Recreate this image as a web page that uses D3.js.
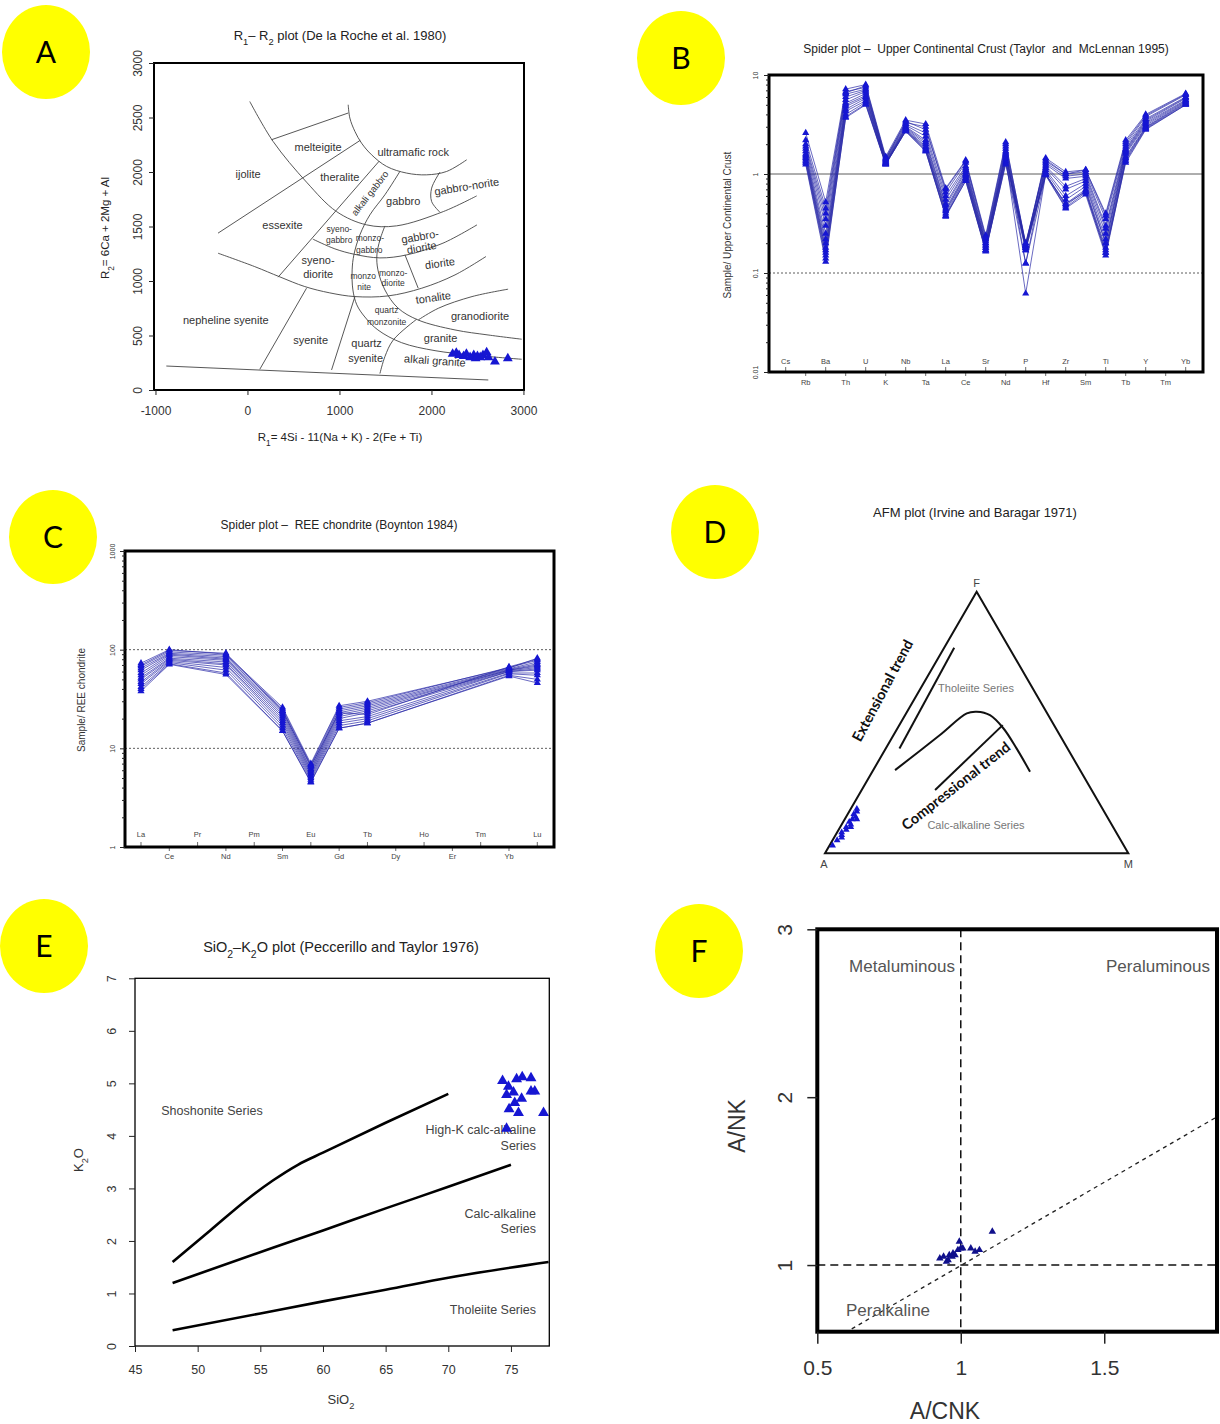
<!DOCTYPE html>
<html>
<head>
<meta charset="utf-8">
<script src="https://cdn.jsdelivr.net/npm/d3@7"></script>
<style>
  body { margin: 0; background: #fff; }
  text { white-space: pre; }
</style>
</head>
<body>
<svg id="fig" width="1220" height="1424"></svg>
<script>
// ---------- data ----------
// A: R1-R2 (De la Roche) field boundaries, [R1, R2]
const boundBase = [[-882, 220], [2618, 92]];
const boundOuterArc = [[25, 2647], [279, 2280], [642, 1907], [968, 1637], [1295, 1515], [1621, 1506], [2129, 1637], [2492, 1781]];
const boundMelteigiteTop = [[261, 2296], [1095, 2541]];
const boundUltramafic = [[1095, 2617], [1113, 2495], [1168, 2372], [1240, 2265], [1349, 2158], [1513, 2051], [1730, 1990], [1948, 1974], [2165, 2005], [2383, 2112]];
const boundIjolite = [[-320, 1439], [1225, 2290]];
const boundAlkaliGabbro = [[1432, 2100], [333, 1035]];
const boundMonzonite = [[1657, 2005], [1494, 1791], [1331, 1607], [1222, 1423], [1157, 1240], [1138, 1102], [1146, 918], [1189, 781], [1276, 670], [1418, 551], [1676, 434], [2039, 361], [2437, 321], [2981, 282]];
const boundGranodiorite = [[1494, 1505], [1440, 1377], [1407, 1240], [1418, 1102], [1494, 918], [1635, 753], [1853, 643], [2256, 551], [2615, 505], [2981, 466]];
const boundGabbroNorite = [[2092, 1999], [2002, 1852], [2002, 1729], [2092, 1631]];
const boundDiorite = [[711, 1384], [950, 1295], [1168, 1244], [1440, 1212], [1734, 1240], [2125, 1347], [2495, 1515]];
const boundSyenodiorite = [[-320, 1255], [79, 1132], [351, 1038], [623, 949], [895, 891], [1168, 857], [1527, 863], [1895, 934], [2256, 1056], [2593, 1225]];
const boundMonzodiorite = [[1712, 1240], [1856, 934]];
const boundTonalite = [[1857, 643], [2075, 750], [2441, 857], [2833, 925]];
const boundNephSyenite = [[642, 934], [134, 190]];
const boundSyenite = [[1168, 857], [914, 184]];
const boundQtzSyenite = [[1839, 649], [1585, 459], [1494, 306], [1440, 151]];
const r1r2Boundaries = [boundBase, boundOuterArc, boundMelteigiteTop, boundUltramafic, boundIjolite, boundAlkaliGabbro,
  boundMonzonite, boundGranodiorite, boundGabbroNorite, boundDiorite, boundSyenodiorite, boundMonzodiorite,
  boundTonalite, boundNephSyenite, boundSyenite, boundQtzSyenite];

const r1r2Labels = [['melteigite', 768, 2225], ['ultramafic rock', 1802, 2179], ['ijolite', 7, 1981], ['theralite', 1004, 1953],
  ['alkali gabbro', 1331, 1806], ['gabbro', 1693, 1736], ['gabbro-norite', 2383, 1867], ['essexite', 381, 1515],
  ['gabbro-', 1875, 1408], ['diorite', 1893, 1307], ['syeno-', 768, 1194], ['diorite ', 768, 1062], ['diorite  ', 2092, 1163],
  ['tonalite', 2020, 848], ['granodiorite', 2528, 682], ['nepheline syenite', -236, 643], ['syenite', 686, 453],
  ['quartz', 1295, 429], ['syenite ', 1284, 291], ['granite', 2100, 475], ['alkali granite', 2038, 269]];
const r1r2SmallLabels = [['syeno-', 997, 1478], ['gabbro', 997, 1377], ['monzo-', 1331, 1393], ['gabbro', 1323, 1286],
  ['monzo', 1258, 1050], ['nite', 1269, 949], ['monzo-', 1584, 1077], ['diorite', 1584, 980],
  ['quartz', 1513, 735], ['monzonite', 1513, 627]];
const r1Samples = [2230, 2270, 2300, 2350, 2380, 2420, 2460, 2480, 2500, 2530, 2560, 2600, 2620, 2690, 2830];
const r2Samples = [330, 340, 320, 310, 330, 300, 320, 290, 310, 300, 320, 345, 300, 260, 290];
const r1Ticks = [-1000, 0, 1000, 2000, 3000];
const r2Ticks = [0, 500, 1000, 1500, 2000, 2500, 3000];

// B: upper continental crust normalised spider
const uccElements = ['Cs', 'Rb', 'Ba', 'Th', 'U', 'K', 'Nb', 'Ta', 'La', 'Ce', 'Sr', 'Nd', 'P', 'Hf', 'Zr', 'Sm', 'Ti', 'Tb', 'Y', 'Tm', 'Yb'];
const uccSamples = [
  [null, 2.6, 0.52, 7.2, 8.0, 1.5, 3.5, 3.2, 0.72, 1.38, 0.24, 2.1, 0.19, 1.45, 1.05, 1.1, 0.4, 2.2, 4.0, null, 6.5],
  [null, 2.2, 0.45, 6.8, 7.5, 1.45, 3.3, 3.0, 0.65, 1.3, 0.22, 1.9, 0.18, 1.4, 1.0, 1.05, 0.35, 2.0, 3.8, null, 6.3],
  [null, 1.9, 0.35, 6.4, 7.2, 1.4, 3.2, 2.6, 0.6, 1.2, 0.21, 1.8, 0.19, 1.3, 0.95, 1.0, 0.3, 1.9, 3.6, null, 6.0],
  [null, 1.8, 0.3, 6.0, 7.0, 1.38, 3.1, 2.4, 0.55, 1.15, 0.2, 1.7, 0.125, 1.25, 0.9, 0.95, 0.28, 1.8, 3.5, null, 5.9],
  [null, 1.7, 0.25, 5.6, 6.8, 1.35, 3.0, 2.2, 0.5, 1.1, 0.2, 1.65, 0.2, 1.2, 0.75, 0.9, 0.25, 1.75, 3.4, null, 5.8],
  [null, 1.6, 0.22, 5.2, 6.5, 1.33, 2.95, 2.1, 0.48, 1.05, 0.19, 1.6, 0.18, 1.15, 0.7, 0.85, 0.22, 1.7, 3.3, null, 5.6],
  [null, 1.55, 0.2, 5.0, 6.2, 1.3, 2.9, 2.0, 0.45, 1.0, 0.19, 1.55, 0.17, 1.1, 0.6, 0.8, 0.2, 1.65, 3.2, null, 5.5],
  [null, 1.5, 0.18, 4.8, 6.0, 1.3, 2.85, 1.9, 0.43, 0.98, 0.18, 1.5, 0.19, 1.05, 0.55, 0.75, 0.2, 1.6, 3.1, null, 5.4],
  [null, 1.45, 0.17, 4.5, 5.8, 1.28, 2.8, 1.85, 0.42, 0.95, 0.18, 1.45, 0.062, 1.0, 0.5, 0.7, 0.18, 1.5, 3.0, null, 5.3],
  [null, 1.4, 0.16, 4.3, 5.5, 1.27, 2.75, 1.8, 0.4, 0.92, 0.17, 1.4, 0.18, 1.0, 0.48, 0.68, 0.17, 1.45, 2.95, null, 5.2],
  [null, 1.35, 0.15, 4.0, 5.3, 1.26, 2.75, 1.75, 0.38, 0.9, 0.17, 1.35, 0.19, 0.98, 0.46, 0.65, 0.16, 1.4, 2.9, null, 5.1],
  [null, 1.25, 0.13, 3.8, 5.1, 1.25, 2.7, 1.7, 0.37, 0.86, 0.165, 1.3, 0.125, 0.97, 0.45, 0.62, 0.15, 1.35, 2.85, null, 5.0],
  [null, 2.0, 0.4, 6.6, 7.8, 1.42, 3.4, 2.8, 0.7, 1.35, 0.23, 2.0, 0.2, 1.35, 1.0, 1.1, 0.38, 2.1, 3.9, null, 6.4],
  [null, 1.3, 0.14, 3.7, 5.0, 1.25, 2.7, 1.7, 0.38, 0.85, 0.17, 1.25, 0.17, 0.99, 0.5, 0.66, 0.16, 1.3, 2.8, null, 5.0]
];
const uccTicks = [0.01, 0.1, 1, 10];

// C: chondrite normalised REE
const reeElements = ['La', 'Ce', 'Pr', 'Nd', 'Pm', 'Sm', 'Eu', 'Gd', 'Tb', 'Dy', 'Ho', 'Er', 'Tm', 'Yb', 'Lu'];
const reeSamples = [
  [73, 100, null, 90, null, 26, 7.0, 27, 30, null, null, null, null, 65, 82],
  [68, 95, null, 88, null, 25, 6.8, 26, 29, null, null, null, null, 66, 78],
  [65, 92, null, 85, null, 24, 6.5, 25, 28, null, null, null, null, 64, 75],
  [62, 90, null, 82, null, 23, 6.2, 24, 27, null, null, null, null, 63, 72],
  [58, 88, null, 80, null, 22, 6.0, 23, 26, null, null, null, null, 62, 70],
  [55, 85, null, 78, null, 21, 5.8, 22, 25, null, null, null, null, 62, 68],
  [52, 82, null, 75, null, 20, 5.6, 21, 24, null, null, null, null, 61, 66],
  [50, 80, null, 72, null, 19, 5.4, 20, 23, null, null, null, null, 60, 64],
  [47, 78, null, 70, null, 18, 5.2, 19, 21, null, null, null, null, 60, 62],
  [45, 76, null, 66, null, 17, 5.0, 18, 20, null, null, null, null, 58, 58],
  [42, 74, null, 62, null, 16, 4.8, 17, 19, null, null, null, null, 57, 55],
  [40, 72, null, 58, null, 15, 4.6, 16, 18, null, null, null, null, 55, 50],
  [38, 71, null, 56, null, 15, 4.5, 16, 18, null, null, null, null, 54, 46],
  [70, 98, null, 92, null, 24, 6.6, 23, 22, null, null, null, null, 67, 80]
];
const reeTicks = [1, 10, 100, 1000];

// D: AFM ternary, percent F and M (A = 100 - F - M)
const afmCurveF = [31.8, 45.2, 53.5, 54.1, 52.8, 47.8, 40.1, 31.2];
const afmCurveM = [7.2, 15.3, 20, 23, 28, 34.9, 43.1, 52];
const afmExtF = [40.1, 78.6], afmExtM = [4.5, 3.3];
const afmCompF = [24.2, 49], afmCompM = [24.2, 34.1];
const afmSampleF = [3, 5, 7, 8, 9, 10, 11, 12, 13, 14, 15, 16, 17, 6, 10, 13];
const afmSampleM = [1, 1.5, 2, 1.5, 2.5, 2, 3, 2, 2.5, 3, 2, 2.5, 2, 2.5, 3.5, 4];

// E: SiO2-K2O
const shoshoniteLine = [[48, 1.6], [51, 2.2], [54, 2.8], [56, 3.15], [58, 3.45], [60, 3.68], [65, 4.25], [70, 4.8]];
const highKLine = [[48, 1.2], [56, 1.87], [60, 2.2], [65, 2.62], [70, 3.03], [75, 3.45]];
const tholeiiteLine = [[48, 0.3], [55, 0.62], [60, 0.85], [65, 1.07], [70, 1.3], [78, 1.6]];
const sio2Samples = [74.33, 74.8, 75.45, 75.9, 76.6, 74.65, 75.2, 76.6, 76.9, 75.85, 75.3, 74.85, 75.6, 77.6, 74.65];
const k2oSamples = [5.05, 4.94, 5.08, 5.12, 5.1, 4.78, 4.83, 4.85, 4.85, 4.71, 4.63, 4.51, 4.44, 4.44, 4.14];
const sio2Ticks = [45, 50, 55, 60, 65, 70, 75];
const k2oTicks = [0, 1, 2, 3, 4, 5, 6, 7];

// F: Shand A/CNK vs A/NK
const acnkSamples = [0.927, 0.94, 0.95, 0.956, 0.96, 0.97, 0.973, 0.98, 0.99, 0.995, 1.0, 1.007, 1.035, 1.05, 1.065, 1.11];
const ankSamples = [1.04, 1.05, 1.02, 1.03, 1.06, 1.05, 1.07, 1.06, 1.09, 1.14, 1.1, 1.1, 1.1, 1.08, 1.09, 1.2];
const shandDiagonal = [[0.62, 0.62], [1.89, 1.88]];
const acnkTicks = [0.5, 1, 1.5];
const ankTicks = [1, 2, 3];

const panelLetters = ['A', 'B', 'C', 'D', 'E', 'F'];

// ---------- helpers ----------
const FONT = '"Liberation Sans", Arial, sans-serif';
const svg = d3.select('#fig');
const BLUE = '#1616d2';
const plain = d => String(d);

function styleAxis(a, size) {
  a.attr('font-family', FONT).attr('font-size', size);
  a.select('.domain').remove();
  a.selectAll('line').attr('stroke', '#222');
  a.selectAll('text').attr('fill', '#333');
}
function rotateLeft(a, off) {
  a.selectAll('text').attr('x', null).attr('dy', null)
    .attr('transform', 'translate(' + (-off) + ',0) rotate(-90)')
    .attr('text-anchor', 'middle');
}
function rich(g, x, y, parts, size, opts) {
  opts = opts || {};
  const t = g.append('text').attr('x', x).attr('y', y)
    .attr('font-family', opts.family || FONT).attr('font-size', size)
    .attr('fill', opts.fill || '#222').attr('text-anchor', opts.anchor || 'middle');
  if (opts.rotate) t.attr('transform', 'rotate(' + opts.rotate + ',' + x + ',' + y + ')');
  parts.forEach(p => {
    if (Array.isArray(p)) {
      t.append('tspan').attr('font-size', size * 0.72).attr('baseline-shift', 'sub').text(p[0]);
    } else {
      t.append('tspan').text(p);
    }
  });
  return t;
}
function frame(g, xs, ys, w) {
  g.append('rect')
    .attr('x', xs.range()[0]).attr('y', ys.range()[1])
    .attr('width', xs.range()[1] - xs.range()[0]).attr('height', ys.range()[0] - ys.range()[1])
    .attr('fill', 'none').attr('stroke', '#000').attr('stroke-width', w);
}

// ---------- Panel A ----------
const gA = svg.append('g');
const xA = d3.scaleLinear().domain([-1016, 3006]).range([154, 524]);
const yA = d3.scaleLinear().domain([0, 3000]).range([390, 63]);
const lineA = d3.line().x(d => xA(d[0])).y(d => yA(d[1])).curve(d3.curveCatmullRom.alpha(0.5));

gA.selectAll('.bound').data(r1r2Boundaries).join('path')
  .attr('class', 'bound').attr('d', lineA)
  .attr('fill', 'none').attr('stroke', '#444').attr('stroke-width', 0.9);

const rotA = { 'alkali gabbro': -52, 'gabbro-norite': -9, 'gabbro-': -10, 'diorite': -10, 'diorite  ': -8, 'tonalite': -8, 'alkali granite': 4 };
gA.selectAll('.lab').data(r1r2Labels).join('text')
  .attr('class', 'lab')
  .attr('x', d => xA(d[1])).attr('y', d => yA(d[2]))
  .attr('dy', '0.35em').attr('text-anchor', 'middle')
  .attr('font-family', FONT).attr('font-size', d => d[0] === 'alkali gabbro' ? 9.5 : 11).attr('fill', '#333')
  .attr('transform', d => rotA[d[0]] ? 'rotate(' + rotA[d[0]] + ',' + xA(d[1]) + ',' + yA(d[2]) + ')' : null)
  .text(d => d[0].trim());
gA.selectAll('.slab').data(r1r2SmallLabels).join('text')
  .attr('class', 'slab')
  .attr('x', d => xA(d[1])).attr('y', d => yA(d[2]))
  .attr('dy', '0.35em').attr('text-anchor', 'middle')
  .attr('font-family', FONT).attr('font-size', 8.5).attr('fill', '#333')
  .text(d => d[0]);

gA.selectAll('.pt').data(r1Samples).join('path')
  .attr('class', 'pt')
  .attr('transform', (d, i) => 'translate(' + xA(d) + ',' + yA(r2Samples[i]) + ')')
  .attr('d', d3.symbol().type(d3.symbolTriangle).size(42)).attr('fill', BLUE);

frame(gA, xA, yA, 2);
const axA = gA.append('g').attr('transform', 'translate(0,390)')
  .call(d3.axisBottom(xA).tickValues(r1Ticks).tickFormat(plain).tickSize(5));
styleAxis(axA, 12);
axA.selectAll('text').attr('y', 21).attr('dy', '0.35em');
const ayA = gA.append('g').attr('transform', 'translate(154,0)')
  .call(d3.axisLeft(yA).tickValues(r2Ticks).tickFormat(plain).tickSize(5));
styleAxis(ayA, 12);
rotateLeft(ayA, 12);

rich(gA, 340, 40, ['R', ['1'], '– R', ['2'], ' plot (De la Roche et al. 1980)'], 13);
rich(gA, 340, 441, ['R', ['1'], '= 4Si - 11(Na + K) - 2(Fe + Ti)'], 11.5);
rich(gA, 109, 228, ['R', ['2'], '= 6Ca + 2Mg + Al'], 11.5, { rotate: -90 });

// ---------- spider panels (B, C) ----------
function spider(g, cfg) {
  const xs = d3.scaleLinear().domain(cfg.xDomain).range(cfg.xRange);
  const ys = d3.scaleLog().domain(cfg.yDomain).range(cfg.yRange);
  const bottom = cfg.yRange[0];

  cfg.refs.forEach(r => {
    g.append('line').attr('x1', cfg.xRange[0]).attr('x2', cfg.xRange[1])
      .attr('y1', ys(r[0])).attr('y2', ys(r[0]))
      .attr('stroke', '#333').attr('stroke-width', 0.8)
      .attr('stroke-dasharray', r[1] ? '2,2' : null);
  });

  const line = d3.line().x(d => xs(d.i)).y(d => ys(d.v));
  const series = cfg.samples.map(s => s.map((v, i) => ({ i, v })).filter(d => d.v != null));
  g.selectAll('.sl').data(series).join('path')
    .attr('class', 'sl').attr('d', line)
    .attr('fill', 'none').attr('stroke', '#2a2aa8').attr('stroke-width', 0.7);
  g.selectAll('.sp').data(series.flat()).join('path')
    .attr('class', 'sp')
    .attr('transform', d => 'translate(' + xs(d.i) + ',' + ys(d.v) + ')')
    .attr('d', d3.symbol().type(d3.symbolTriangle).size(22)).attr('fill', BLUE);

  // element names, staggered like R output
  cfg.elements.forEach((e, i) => {
    const top = i % 2 === 0;
    g.append('line').attr('x1', xs(i)).attr('x2', xs(i))
      .attr('y1', bottom).attr('y2', top ? bottom - 5 : bottom + 4)
      .attr('stroke', '#444').attr('stroke-width', 0.8);
    g.append('text').attr('x', xs(i)).attr('y', top ? bottom - cfg.topOff : bottom + cfg.botOff)
      .attr('dy', '0.35em').attr('text-anchor', 'middle')
      .attr('font-family', FONT).attr('font-size', 7.5).attr('fill', '#444').text(e);
  });

  frame(g, xs, ys, 3);

  const minor = [];
  const lo = Math.log10(cfg.yDomain[0]), hi = Math.log10(cfg.yDomain[1]);
  for (let k = lo; k < hi; k++) for (let m = 2; m <= 9; m++) minor.push(m * Math.pow(10, k));
  const amin = g.append('g').attr('transform', 'translate(' + cfg.xRange[0] + ',0)')
    .call(d3.axisLeft(ys).tickValues(minor).tickFormat('').tickSize(3));
  styleAxis(amin, 7);
  const amaj = g.append('g').attr('transform', 'translate(' + cfg.xRange[0] + ',0)')
    .call(d3.axisLeft(ys).tickValues(cfg.ticks).tickFormat(plain).tickSize(5));
  styleAxis(amaj, 7);
  rotateLeft(amaj, cfg.tickOff);

  rich(g, cfg.title[0], cfg.title[1], [cfg.title[2]], 12);
  rich(g, cfg.ylab[0], cfg.ylab[1], [cfg.ylab[2]], 10, { rotate: -90, fill: '#333' });
}

spider(svg.append('g'), {
  elements: uccElements, samples: uccSamples, ticks: uccTicks,
  xDomain: [-0.835, 20.865], xRange: [769, 1203],
  yDomain: [0.01, 10], yRange: [372, 75],
  refs: [[1, false], [0.1, true]],
  topOff: 11, botOff: 10, tickOff: 11,
  title: [986, 53, 'Spider plot –  Upper Continental Crust (Taylor  and  McLennan 1995)'],
  ylab: [731, 225, 'Sample/ Upper Continental Crust']
});

spider(svg.append('g'), {
  elements: reeElements, samples: reeSamples, ticks: reeTicks,
  xDomain: [-0.565, 14.59], xRange: [125, 554],
  yDomain: [1, 1000], yRange: [847, 551],
  refs: [[100, true], [10, true]],
  topOff: 12.5, botOff: 9.5, tickOff: 10,
  title: [339, 529, 'Spider plot –  REE chondrite (Boynton 1984)'],
  ylab: [85, 700, 'Sample/ REE chondrite']
});

// ---------- Panel D: AFM ----------
const gD = svg.append('g');
const dBase = d3.scaleLinear().domain([0, 100]).range([825, 1128.3]);
const dUp = d3.scaleLinear().domain([0, 100]).range([853.3, 591.7]);
const afm = (f, m) => [dBase(m + f / 2), dUp(f)];
const lineD = d3.line().curve(d3.curveCatmullRom.alpha(0.5));

gD.append('path').attr('d', d3.line()([afm(0, 0), afm(100, 0), afm(0, 100)]) + 'Z')
  .attr('fill', 'none').attr('stroke', '#111').attr('stroke-width', 2);
gD.append('path').attr('d', lineD(afmCurveF.map((f, i) => afm(f, afmCurveM[i]))))
  .attr('fill', 'none').attr('stroke', '#111').attr('stroke-width', 2);
gD.append('path').attr('d', d3.line()(afmExtF.map((f, i) => afm(f, afmExtM[i]))))
  .attr('fill', 'none').attr('stroke', '#111').attr('stroke-width', 2);
gD.append('path').attr('d', d3.line()(afmCompF.map((f, i) => afm(f, afmCompM[i]))))
  .attr('fill', 'none').attr('stroke', '#111').attr('stroke-width', 2);

gD.selectAll('.ap').data(afmSampleF).join('path')
  .attr('class', 'ap')
  .attr('transform', (d, i) => 'translate(' + afm(d, afmSampleM[i]).join(',') + ')')
  .attr('d', d3.symbol().type(d3.symbolTriangle).size(20)).attr('fill', BLUE);

rich(gD, afm(100, 0)[0], afm(100, 0)[1] - 5, ['F'], 11, { fill: '#444' });
rich(gD, afm(0, 0)[0] - 1, afm(0, 0)[1] + 15, ['A'], 11, { fill: '#444' });
rich(gD, afm(0, 100)[0], afm(0, 100)[1] + 15, ['M'], 11, { fill: '#444' });
rich(gD, 976, 692, ['Tholeiite Series'], 11, { fill: '#777' });
rich(gD, 976, 829, ['Calc-alkaline Series'], 11, { fill: '#777' });
rich(gD, 887, 693, ['Extensional trend'], 14.5, { family: 'Lato, "Open Sans", sans-serif', fill: '#111', rotate: -62 })
  .attr('font-weight', 'bold');
rich(gD, 959, 790, ['Compressional trend'], 14.5, { family: 'Lato, "Open Sans", sans-serif', fill: '#111', rotate: -38 })
  .attr('font-weight', 'bold');
rich(gD, 975, 517, ['AFM plot (Irvine and Baragar 1971)'], 13);

// ---------- Panel E: SiO2-K2O ----------
const gE = svg.append('g');
const xE = d3.scaleLinear().domain([45, 78.06]).range([135, 549.3]);
const yE = d3.scaleLinear().domain([0, 7]).range([1346, 978.3]);
const lineE = d3.line().x(d => xE(d[0])).y(d => yE(d[1])).curve(d3.curveMonotoneX);
gE.selectAll('.el').data([shoshoniteLine, highKLine, tholeiiteLine]).join('path')
  .attr('class', 'el').attr('d', lineE)
  .attr('fill', 'none').attr('stroke', '#000').attr('stroke-width', 2.6);

rich(gE, 212, 1115, ['Shoshonite Series'], 12.5, { fill: '#444' });
rich(gE, 536, 1134, ['High-K calc-alkaline'], 12.5, { fill: '#444', anchor: 'end' });
rich(gE, 536, 1150, ['Series'], 12.5, { fill: '#444', anchor: 'end' });
rich(gE, 536, 1218, ['Calc-alkaline'], 12.5, { fill: '#444', anchor: 'end' });
rich(gE, 536, 1233, ['Series'], 12.5, { fill: '#444', anchor: 'end' });
rich(gE, 536, 1314, ['Tholeiite Series'], 12.5, { fill: '#444', anchor: 'end' });

gE.selectAll('.ep').data(sio2Samples).join('path')
  .attr('class', 'ep')
  .attr('transform', (d, i) => 'translate(' + xE(d) + ',' + yE(k2oSamples[i]) + ')')
  .attr('d', d3.symbol().type(d3.symbolTriangle).size(52)).attr('fill', BLUE);

frame(gE, xE, yE, 1.3);
const axE = gE.append('g').attr('transform', 'translate(0,1346)')
  .call(d3.axisBottom(xE).tickValues(sio2Ticks).tickFormat(plain).tickSize(6));
styleAxis(axE, 12.5);
axE.selectAll('text').attr('y', 24).attr('dy', '0.35em');
const ayE = gE.append('g').attr('transform', 'translate(135,0)')
  .call(d3.axisLeft(yE).tickValues(k2oTicks).tickFormat(plain).tickSize(6));
styleAxis(ayE, 12.5);
rotateLeft(ayE, 19);

rich(gE, 341, 952, ['SiO', ['2'], '–K', ['2'], 'O plot (Peccerillo and Taylor 1976)'], 14.5);
rich(gE, 341, 1404, ['SiO', ['2']], 13, { fill: '#333' });
rich(gE, 83, 1160, ['K', ['2'], 'O'], 13, { fill: '#333', rotate: -90 });

// ---------- Panel F: Shand ----------
const gF = svg.append('g');
const xF = d3.scaleLinear().domain([0.5, 1.893]).range([817.3, 1217]);
const yF = d3.scaleLinear().domain([0.603, 3]).range([1331.7, 929.3]);

gF.append('line').attr('x1', xF(1)).attr('x2', xF(1)).attr('y1', yF(3)).attr('y2', yF(0.603))
  .attr('stroke', '#111').attr('stroke-width', 1.5).attr('stroke-dasharray', '8,5');
gF.append('line').attr('x1', xF(0.5)).attr('x2', xF(1.893)).attr('y1', yF(1)).attr('y2', yF(1))
  .attr('stroke', '#111').attr('stroke-width', 1.5).attr('stroke-dasharray', '8,5');
gF.append('path').attr('d', d3.line().x(d => xF(d[0])).y(d => yF(d[1]))(shandDiagonal))
  .attr('fill', 'none').attr('stroke', '#222').attr('stroke-width', 1.3).attr('stroke-dasharray', '4,4');

rich(gF, 902, 972, ['Metaluminous'], 17, { fill: '#555' });
rich(gF, 1158, 972, ['Peraluminous'], 17, { fill: '#555' });
rich(gF, 888, 1316, ['Peralkaline'], 17, { fill: '#555' });

gF.selectAll('.fp').data(acnkSamples).join('path')
  .attr('class', 'fp')
  .attr('transform', (d, i) => 'translate(' + xF(d) + ',' + yF(ankSamples[i]) + ')')
  .attr('d', d3.symbol().type(d3.symbolTriangle).size(24)).attr('fill', '#10108c');

frame(gF, xF, yF, 4);
const axF = gF.append('g').attr('transform', 'translate(0,1331.7)')
  .call(d3.axisBottom(xF).tickValues(acnkTicks).tickFormat(plain).tickSize(12));
styleAxis(axF, 21);
axF.selectAll('line').attr('stroke-width', 1.5);
axF.selectAll('text').attr('y', 36).attr('dy', '0.35em');
const ayF = gF.append('g').attr('transform', 'translate(817.3,0)')
  .call(d3.axisLeft(yF).tickValues(ankTicks).tickFormat(plain).tickSize(10));
styleAxis(ayF, 21);
ayF.selectAll('line').attr('stroke-width', 1.5);
rotateLeft(ayF, 25);

rich(gF, 945, 1419, ['A/CNK'], 23, { fill: '#333' });
rich(gF, 745, 1126, ['A/NK'], 23, { fill: '#333', rotate: -90 });

// ---------- panel letters ----------
const letterX = [46, 681, 53, 715, 44, 699];
const letterY = [52, 58, 537, 532, 946, 951];
const gL = svg.append('g');
gL.selectAll('ellipse').data(panelLetters).join('ellipse')
  .attr('cx', (d, i) => letterX[i]).attr('cy', (d, i) => letterY[i])
  .attr('rx', 44).attr('ry', 47).attr('fill', '#ffff00');
gL.selectAll('text').data(panelLetters).join('text')
  .attr('x', (d, i) => letterX[i]).attr('y', (d, i) => letterY[i])
  .attr('dy', '0.35em').attr('text-anchor', 'middle')
  .attr('font-family', 'Lato, "Open Sans", sans-serif').attr('font-size', 30).attr('fill', '#000')
  .text(d => d);
</script>
</body>
</html>
